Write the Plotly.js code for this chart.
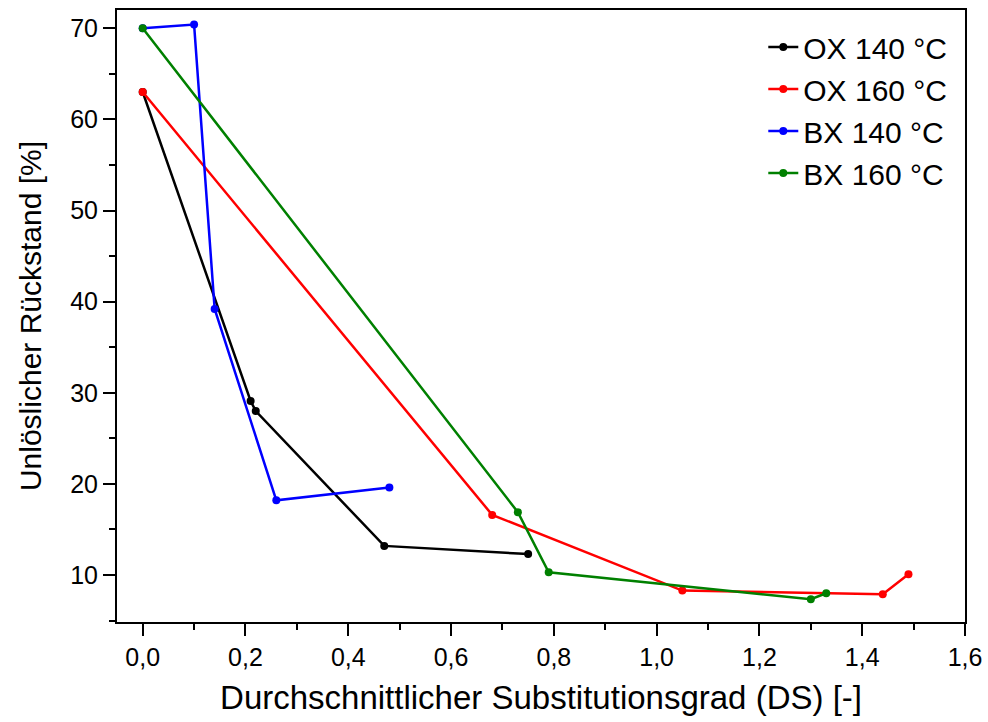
<!DOCTYPE html>
<html>
<head>
<meta charset="utf-8">
<script src="https://cdn.plot.ly/plotly-3.0.1.min.js"></script>
<style>html,body{margin:0;padding:0;background:#fff;}#chart{width:988px;height:722px;}</style>
</head>
<body>
<div id="chart"></div>
<script>
var seriesNames = ["OX 140 °C", "OX 160 °C", "BX 140 °C", "BX 160 °C"];
var seriesColors = ["#000000", "#ff0000", "#0000ff", "#008000"];
var ox140X = [0, 0.21, 0.22, 0.47, 0.75];
var ox140Y = [63, 29.1, 28.0, 13.2, 12.3];
var ox160X = [0, 0.68, 1.05, 1.44, 1.49];
var ox160Y = [63, 16.6, 8.3, 7.9, 10.1];
var bx140X = [0, 0.10, 0.14, 0.26, 0.48];
var bx140Y = [70, 70.4, 39.2, 18.2, 19.6];
var bx160X = [0, 0.73, 0.79, 1.30, 1.33];
var bx160Y = [70, 16.9, 10.3, 7.35, 8.0];
var xTitle = "Durchschnittlicher Substitutionsgrad (DS) [-]";
var yTitle = "Unlöslicher Rückstand [%]";

var xs = [ox140X, ox160X, bx140X, bx160X];
var ys = [ox140Y, ox160Y, bx140Y, bx160Y];
var font = "Arial, 'Liberation Sans', sans-serif";
var traces = xs.map(function (x, i) {
  return {
    x: x, y: ys[i], name: seriesNames[i], type: "scatter", mode: "lines+markers",
    line: {color: seriesColors[i], width: 2.5},
    marker: {color: seriesColors[i], size: 8}
  };
});

var layout = {
  width: 988, height: 722,
  margin: {l: 117, r: 23, t: 10, b: 100},
  paper_bgcolor: "#fff", plot_bgcolor: "#fff",
  separators: ",.",
  font: {family: font, color: "#000"},
  showlegend: true,
  legend: {
    x: 0.985, xanchor: "right", y: 0.982, yanchor: "top",
    font: {family: font, size: 30, color: "#000"},
    bgcolor: "rgba(0,0,0,0)", borderwidth: 0
  },
  xaxis: {
    range: [-0.05, 1.6], dtick: 0.2, tick0: 0, tickformat: ".1f",
    showline: true, mirror: true, linecolor: "#000", linewidth: 2,
    ticks: "outside", ticklen: 12, tickwidth: 2, tickcolor: "#000",
    minor: {dtick: 0.1, ticks: "outside", ticklen: 6, tickwidth: 2, tickcolor: "#000", showgrid: false},
    showgrid: false, zeroline: false,
    tickfont: {family: font, size: 25, color: "#000"},
    title: {text: xTitle, font: {family: font, size: 33, color: "#000"}, standoff: 16}
  },
  yaxis: {
    range: [4.85, 72], dtick: 10, tick0: 0,
    showline: true, mirror: true, linecolor: "#000", linewidth: 2,
    ticks: "outside", ticklen: 12, tickwidth: 2, tickcolor: "#000",
    minor: {dtick: 5, ticks: "outside", ticklen: 6, tickwidth: 2, tickcolor: "#000", showgrid: false},
    showgrid: false, zeroline: false,
    tickfont: {family: font, size: 25, color: "#000"},
    title: {text: yTitle, font: {family: font, size: 30, color: "#000"}, standoff: 20}
  }
};

Plotly.newPlot("chart", traces, layout, {displayModeBar: false, staticPlot: true});
</script>
</body>
</html>
